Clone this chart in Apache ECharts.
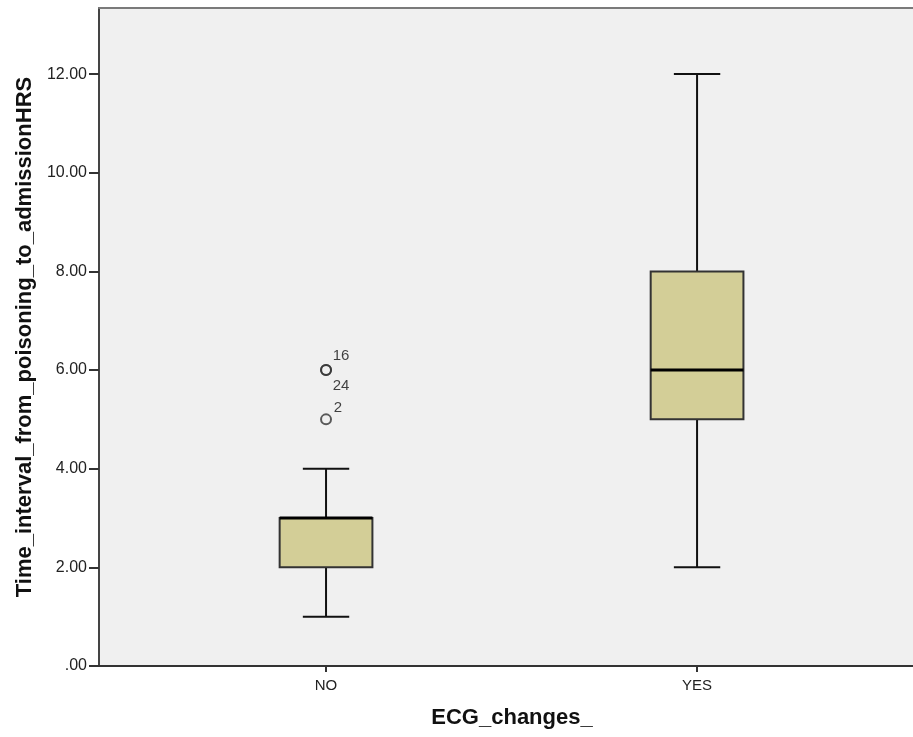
<!DOCTYPE html>
<html>
<head>
<meta charset="utf-8">
<script src="https://cdn.jsdelivr.net/npm/echarts@6/dist/echarts.min.js"></script>
<style>
  html, body { margin: 0; padding: 0; background: #fff; }
  #chart { width: 913px; height: 737px; }
</style>
</head>
<body>
<div id="chart"></div>
<script>
// categories and box statistics
const categories = ['NO', 'YES'];
const mins = [1, 2];
const q1s = [2, 5];
const medians = [3, 6];
const q3s = [3, 8];
const maxs = [4, 12];
// outliers: [category index, value, case label]
const outlierCat = [0, 0, 0];
const outlierVal = [6, 6, 5];
const outlierIds = ['16', '24', '2'];
const yTicks = [0, 2, 4, 6, 8, 10, 12];

const chart = echarts.init(document.getElementById('chart'));

// x positions 1..n on a value axis so the boxes sit where SPSS puts them
const boxData = categories.map((c, i) => [i + 1, mins[i], q1s[i], medians[i], q3s[i], maxs[i]]);
const outlierOffsets = [[15, -14], [15, 16], [12, -12]];

const option = {
  animation: false,
  textStyle: { fontFamily: 'Arial, "Liberation Sans", sans-serif' },
  grid: {
    left: 99, right: 0, top: 8, bottom: 71,
    show: true, backgroundColor: '#f0f0f0', borderWidth: 0
  },
  xAxis: [
    {
      type: 'value',
      min: 0.3881, max: 2.582,
      name: 'ECG_changes_',
      nameLocation: 'middle',
      nameGap: 41,
      nameTextStyle: { fontSize: 22, fontWeight: 'bold', color: '#111', padding: [0, 0, 0, 12] },
      splitLine: { show: false },
      axisLine: { lineStyle: { color: '#333', width: 2 } },
      axisTick: { customValues: [1, 2], length: 6, lineStyle: { color: '#333', width: 2 } },
      axisLabel: {
        customValues: [1, 2],
        formatter: v => categories[Math.round(v) - 1] || '',
        fontSize: 15, color: '#222', margin: 12
      }
    },
    {
      // top frame line only
      type: 'value', position: 'top',
      min: 0.3881, max: 2.582,
      splitLine: { show: false },
      axisLine: { show: true, lineStyle: { color: '#7a7a7a', width: 2 } },
      axisTick: { show: false },
      axisLabel: { show: false }
    }
  ],
  yAxis: {
    type: 'value',
    min: 0, max: 13.34, interval: 2,
    name: 'Time_interval_from_poisoning_to_admissionHRS',
    nameLocation: 'middle',
    nameGap: 60,
    nameTextStyle: { fontSize: 22, fontWeight: 'bold', color: '#111' },
    splitLine: { show: false },
    axisLine: { show: true, lineStyle: { color: '#444', width: 2 } },
    axisTick: { show: true, customValues: yTicks, length: 10, lineStyle: { color: '#333', width: 2 } },
    axisLabel: {
      customValues: yTicks,
      formatter: v => v === 0 ? '.00' : v.toFixed(2),
      fontSize: 16, color: '#222', margin: 12
    }
  },
  series: [
    {
      type: 'custom',
      data: boxData,
      encode: { x: 0, y: [1, 2, 3, 4, 5] },
      renderItem: function (params, api) {
        const x = api.value(0);
        const pMin = api.coord([x, api.value(1)]);
        const pQ1 = api.coord([x, api.value(2)]);
        const pMed = api.coord([x, api.value(3)]);
        const pQ3 = api.coord([x, api.value(4)]);
        const pMax = api.coord([x, api.value(5)]);
        const half = api.size([0.25, 0])[0] / 2;
        const cap = half / 2;
        const cx = pMin[0];
        const line = (x1, y1, x2, y2, w, c) => ({
          type: 'line',
          shape: { x1, y1, x2, y2 },
          style: { stroke: c || '#111', lineWidth: w || 2 }
        });
        return {
          type: 'group',
          children: [
            line(cx, pMax[1], cx, pQ3[1]),
            line(cx, pQ1[1], cx, pMin[1]),
            line(cx - cap, pMax[1], cx + cap, pMax[1]),
            line(cx - cap, pMin[1], cx + cap, pMin[1]),
            {
              type: 'rect',
              shape: { x: cx - half, y: pQ3[1], width: half * 2, height: pQ1[1] - pQ3[1] },
              style: { fill: '#d3ce97', stroke: '#333', lineWidth: 2 }
            },
            line(cx - half, pMed[1], cx + half, pMed[1], 3, '#000')
          ]
        };
      }
    },
    {
      type: 'scatter',
      symbol: 'circle',
      symbolSize: 10,
      itemStyle: { color: 'transparent', borderColor: '#333', borderWidth: 2 },
      data: outlierVal.map((v, i) => ({
        value: [outlierCat[i] + 1, v],
        label: {
          show: true,
          formatter: outlierIds[i],
          offset: outlierOffsets[i],
          position: 'inside',
          fontSize: 15,
          color: '#111'
        }
      }))
    }
  ]
};

chart.setOption(option);
</script>
</body>
</html>
